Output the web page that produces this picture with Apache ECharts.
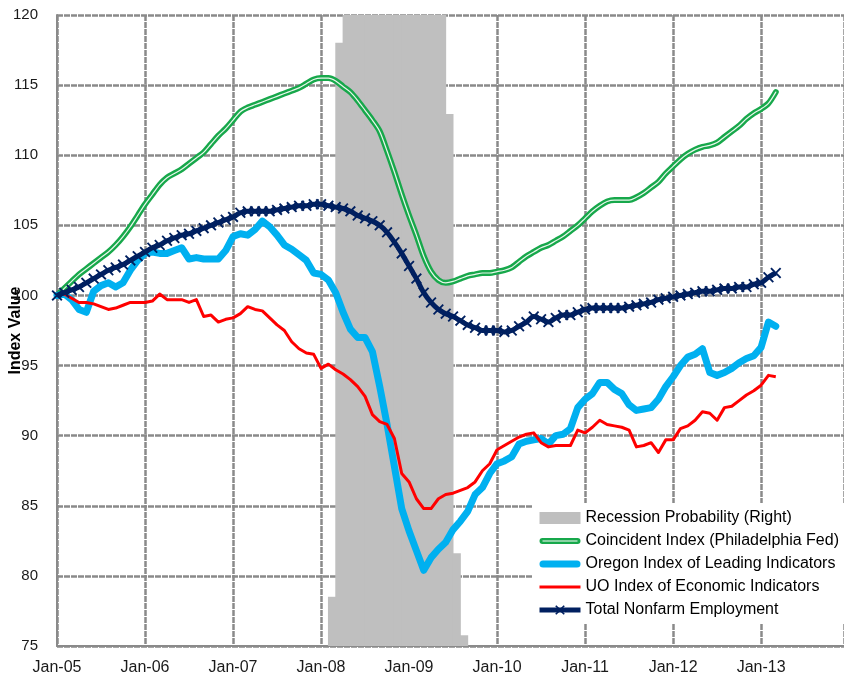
<!DOCTYPE html>
<html>
<head>
<meta charset="utf-8">
<title>Oregon indicators</title>
<script src="https://cdn.jsdelivr.net/npm/echarts@6/dist/echarts.min.js"></script>
<style>
  html, body { margin: 0; padding: 0; background: #fff; }
  #chart { width: 844px; height: 683px; }
</style>
</head>
<body>
<div id="chart"></div>
<script>
// tick labels along the bottom, one per January
const xTickLabels = ['Jan-05', 'Jan-06', 'Jan-07', 'Jan-08', 'Jan-09', 'Jan-10', 'Jan-11', 'Jan-12', 'Jan-13'];

// monthly values from Jan-05 (index 0) to Mar-13
const coincident = [
  100.0, 100.5, 101.0, 101.5, 101.9, 102.3, 102.7, 103.1, 103.6, 104.2, 104.9, 105.7,
  106.5, 107.2, 107.9, 108.4, 108.7, 109.0, 109.4, 109.8, 110.2, 110.8, 111.4, 111.9,
  112.5, 113.1, 113.4, 113.6, 113.8, 114.0, 114.2, 114.4, 114.6, 114.8, 115.1, 115.4,
  115.5, 115.5, 115.3, 114.9, 114.5, 113.9, 113.2, 112.5, 111.7, 110.3, 108.8, 107.2,
  105.7, 104.3, 102.8, 101.7, 101.1, 100.9, 101.0, 101.2, 101.4, 101.5, 101.6, 101.6,
  101.7, 101.8, 102.0, 102.4, 102.8, 103.1, 103.4, 103.6, 103.9, 104.2, 104.6, 105.0,
  105.5, 106.0, 106.4, 106.7, 106.8, 106.8, 106.8, 107.0, 107.3, 107.7, 108.1, 108.7,
  109.2, 109.7, 110.1, 110.4, 110.6, 110.7, 110.9, 111.3, 111.7, 112.1, 112.6, 113.0,
  113.3, 113.7, 114.5
];
const oregonLeading = [
  100.0, 100.1, 99.7, 99.0, 98.8, 100.3, 100.7, 100.9, 100.6, 100.9, 101.8, 102.5,
  103.0, 103.1, 103.0, 103.0, 103.2, 103.4, 102.6, 102.7, 102.6, 102.6, 102.6, 103.2,
  104.2, 104.4, 104.3, 104.7, 105.3, 104.9, 104.3, 103.6, 103.3, 102.9, 102.5, 101.6,
  101.5, 101.1, 100.2, 98.8, 97.6, 97.0, 97.0, 96.0, 93.5, 90.8, 87.8, 84.8,
  83.2, 81.8, 80.4, 81.3, 81.9, 82.4, 83.3, 83.9, 84.6, 85.8, 86.3, 87.3,
  88.0, 88.2, 88.5, 89.4, 89.6, 89.7, 89.8, 89.4, 90.0, 90.1, 90.5, 92.0,
  92.6, 93.0, 93.8, 93.8, 93.3, 93.0, 92.2, 91.8, 91.9, 92.0, 92.6, 93.5,
  94.2, 95.0, 95.6, 95.8, 96.2, 94.5, 94.3, 94.5, 94.8, 95.2, 95.5, 95.7,
  96.3, 98.1, 97.8
];
const uoIndex = [
  100.0, 100.1, 99.8, 99.5, 99.5, 99.4, 99.2, 99.0, 99.1, 99.3, 99.5, 99.5,
  99.5, 99.6, 100.1, 99.7, 99.7, 99.7, 99.5, 99.7, 98.5, 98.6, 98.1, 98.3,
  98.4, 98.7, 99.2, 99.0, 98.9, 98.4, 97.9, 97.5, 96.7, 96.2, 95.9, 95.8,
  94.8, 95.1, 94.7, 94.4, 94.0, 93.5, 92.8, 91.5, 91.0, 90.8, 89.8, 87.3,
  86.7, 85.5, 84.8, 84.8, 85.5, 85.8, 85.9, 86.1, 86.3, 86.7, 87.5, 88.0,
  89.0, 89.3, 89.6, 89.9, 90.1, 90.2, 89.5, 89.2, 89.3, 89.3, 89.3, 90.4,
  90.2, 90.6, 91.1, 90.8, 90.7, 90.6, 90.4, 89.2, 89.3, 89.5, 88.8, 89.7,
  89.7, 90.5, 90.7, 91.1, 91.7, 91.6, 91.1, 92.0, 92.1, 92.5, 92.9, 93.2,
  93.6, 94.3, 94.2
];
const nonfarm = [
  100.0, 100.2, 100.4, 100.6, 100.9, 101.2, 101.5, 101.8, 102.0, 102.2, 102.5, 102.8,
  103.1, 103.4, 103.6, 103.9, 104.1, 104.3, 104.4, 104.6, 104.8, 105.0, 105.2, 105.4,
  105.6, 105.9, 106.0, 106.0, 106.0, 106.0, 106.1, 106.2, 106.3, 106.4, 106.4, 106.5,
  106.5, 106.4, 106.3, 106.2, 106.0, 105.7, 105.5, 105.3, 105.0, 104.5, 103.8, 103.0,
  102.1, 101.2, 100.2, 99.5, 99.0, 98.7, 98.5, 98.2, 97.9, 97.7, 97.5, 97.5,
  97.5, 97.4, 97.5, 97.8, 98.1, 98.5, 98.3, 98.1, 98.4, 98.6, 98.6, 98.8,
  99.0, 99.1, 99.1, 99.1, 99.1, 99.1, 99.2, 99.3, 99.4, 99.5, 99.7, 99.8,
  99.9, 100.0, 100.1, 100.2, 100.3, 100.3, 100.4, 100.5, 100.5, 100.6, 100.6, 100.8,
  100.9, 101.3, 101.6
];

// recession probability (%, right axis), monthly from Feb-08 to Aug-09
const recessionStart = 37;
const recession = [7.8, 95.6, 100, 100, 100, 100, 100, 100, 100, 100, 100, 100, 100, 100, 100, 100, 84.3, 14.7, 1.7];

const names = [
  'Recession Probability (Right)',
  'Coincident Index (Philadelphia Fed)',
  'Oregon Index of Leading Indicators',
  'UO Index of Economic Indicators',
  'Total Nonfarm Employment'
];

function pairs(arr) {
  return arr.map(function (v, i) { return [i, v]; });
}

const font = "'Liberation Sans', Arial, sans-serif";
const gridColor = '#8a8a8a';
const crossIcon = 'path://M0,1.2L1.2,0L5,3.8L8.8,0L10,1.2L6.2,5L10,8.8L8.8,10L5,6.2L1.2,10L0,8.8L3.8,5Z';
// legend swatches shaped like the strokes they stand for
const doubleLineIcon = 'path://M3,0H38A3,3,0,0,1,38,6H3A3,3,0,0,1,3,0Z M3,2.4V3.6H38V2.4Z';
const thickLineIcon = 'path://M3.5,0H37.5A3.5,3.5,0,0,1,37.5,7H3.5A3.5,3.5,0,0,1,3.5,0Z';
const thinLineIcon = 'path://M0,0H41V3H0Z';

const chart = echarts.init(document.getElementById('chart'), null, { renderer: 'canvas' });

chart.setOption({
  animation: false,
  backgroundColor: '#ffffff',
  textStyle: { fontFamily: font },
  grid: { left: 57, top: 15, right: 0, bottom: 37, containLabel: false, outerBoundsMode: 'none' },
  legend: {
    orient: 'vertical',
    left: 533,
    top: 503,
    padding: [6, 20, 5, 4],
    backgroundColor: '#ffffff',
    itemWidth: 41,
    itemHeight: 12,
    itemGap: 5,
    textStyle: { fontSize: 16, color: '#000', fontFamily: font, lineHeight: 18 },
    data: [
      { name: names[0], icon: 'rect' },
      { name: names[1], icon: doubleLineIcon },
      { name: names[2], icon: thickLineIcon },
      { name: names[3], icon: thinLineIcon },
      { name: names[4], lineStyle: { width: 5 } }
    ]
  },
  xAxis: {
    type: 'value',
    min: 0,
    max: 107.3,
    interval: 12,
    axisLine: { show: true, lineStyle: { color: gridColor, width: 2 } },
    axisTick: { show: false },
    axisLabel: {
      margin: 14,
      fontSize: 16,
      color: '#1a1a1a',
      formatter: function (v) {
        const i = v / 12;
        return Number.isInteger(i) && xTickLabels[i] ? xTickLabels[i] : '';
      }
    },
    splitLine: { show: true, lineStyle: { color: gridColor, width: 2.5, type: [6, 1] } }
  },
  yAxis: [
    {
      type: 'value',
      min: 75,
      max: 120,
      interval: 5,
      name: 'Index Value',
      nameLocation: 'middle',
      nameRotate: 90,
      nameGap: 33,
      nameMoveOverlap: false,
      nameTextStyle: { fontSize: 16, fontWeight: 'bold', color: '#000' },
      axisLine: { show: true, lineStyle: { color: gridColor, width: 2 } },
      axisTick: { show: false },
      axisLabel: { margin: 19, fontSize: 15, color: '#1a1a1a' },
      splitLine: { show: true, lineStyle: { color: gridColor, width: 2.5, type: [6, 1] } }
    },
    {
      type: 'value',
      min: 0,
      max: 100,
      show: false,
      splitLine: { show: false }
    }
  ],
  series: [
    {
      name: names[0],
      type: 'bar',
      yAxisIndex: 1,
      barWidth: 8.2,
      itemStyle: { color: '#bfbfbf' },
      data: recession.map(function (v, i) { return [recessionStart + i + 0.5, v]; })
    },
    {
      name: names[1],
      type: 'line',
      smooth: 0.3,
      symbol: 'none',
      color: '#17a84b',
      lineStyle: { width: 6, color: '#17a84b', cap: 'round', join: 'round' },
      data: pairs(coincident)
    },
    {
      name: 'coincident-inner',
      type: 'line',
      smooth: 0.3,
      symbol: 'none',
      silent: true,
      lineStyle: { width: 1.2, color: '#e8f7ec', cap: 'round', join: 'round' },
      data: pairs(coincident)
    },
    {
      name: names[2],
      type: 'line',
      symbol: 'none',
      color: '#00b0f0',
      lineStyle: { width: 7, color: '#00b0f0', cap: 'round', join: 'round' },
      data: pairs(oregonLeading)
    },
    {
      name: names[3],
      type: 'line',
      symbol: 'none',
      color: '#ff0000',
      lineStyle: { width: 3, color: '#ff0000', join: 'round' },
      data: pairs(uoIndex)
    },
    {
      name: names[4],
      type: 'line',
      smooth: 0.3,
      symbol: crossIcon,
      symbolSize: 11,
      showSymbol: true,
      color: '#002060',
      itemStyle: { color: '#002060' },
      lineStyle: { width: 5, color: '#002060', join: 'round' },
      data: pairs(nonfarm)
    }
  ]
});
</script>
</body>
</html>
